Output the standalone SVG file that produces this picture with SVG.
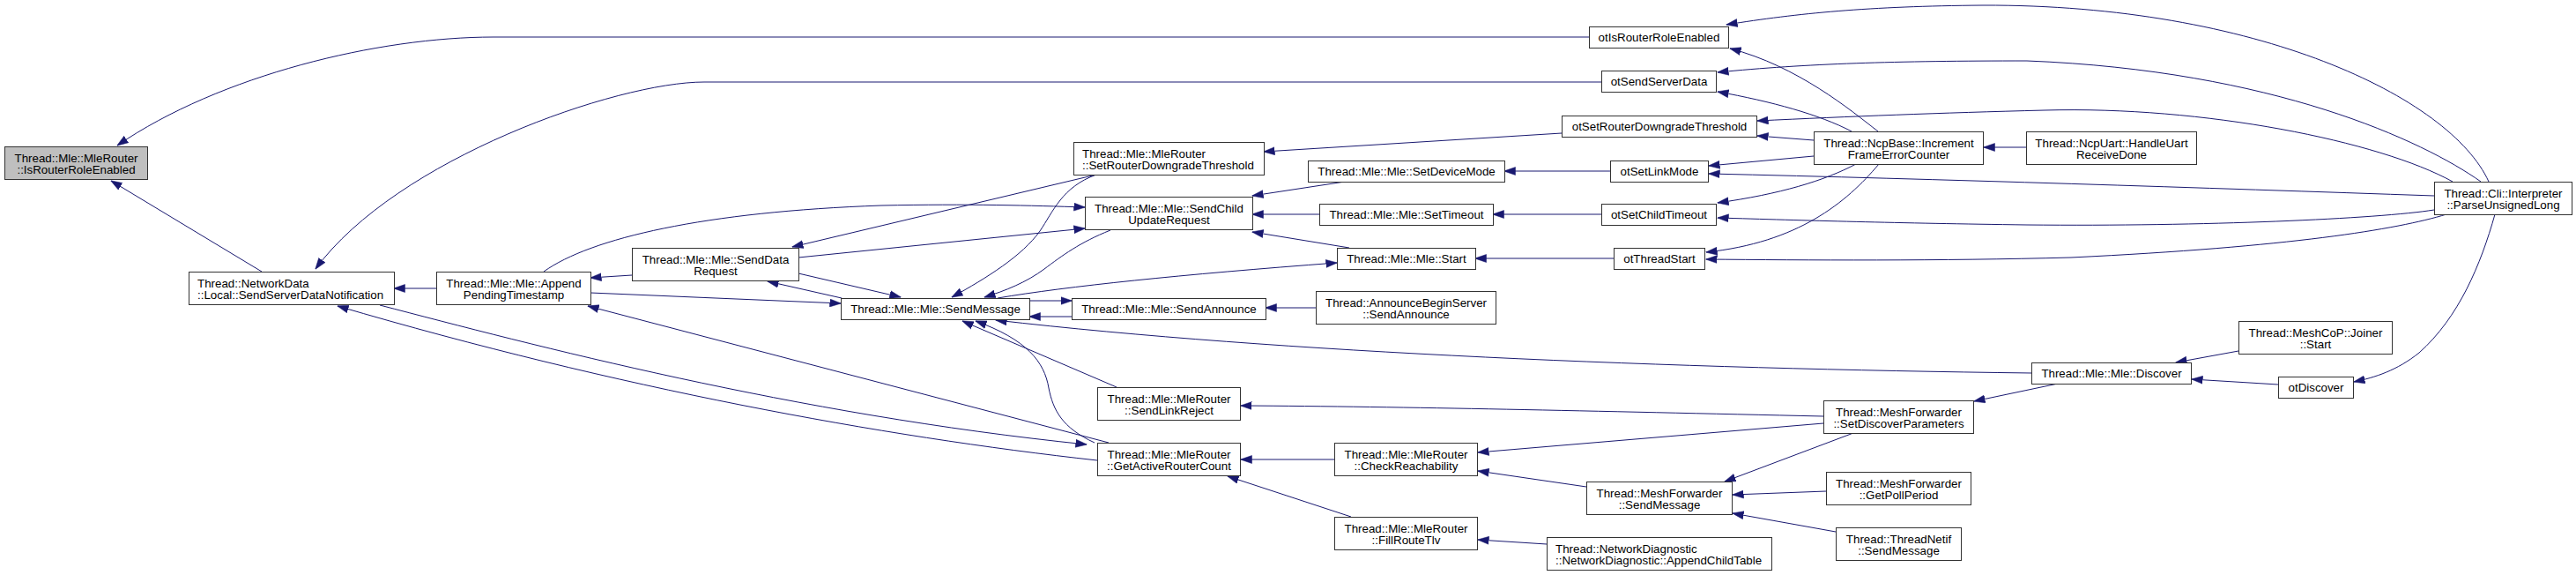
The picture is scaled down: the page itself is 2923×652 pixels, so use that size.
<svg xmlns="http://www.w3.org/2000/svg" width="2923" height="652" viewBox="0 0 2923 652">
<style>
.node rect{fill:#ffffff;stroke:#333333;stroke-width:1}
.root rect{fill:#bfbfbf}
.node text{font-family:"Liberation Sans",Arial,Helvetica,sans-serif;font-size:13.33px;fill:#000000;text-anchor:middle}
.node text.l{text-anchor:start}
.edges path{fill:none;stroke:#191970;stroke-width:1;marker-end:url(#arr)}
</style>
<defs>
<marker id="arr" markerUnits="userSpaceOnUse" markerWidth="13" markerHeight="10" viewBox="0 0 13 9" refX="12.5" refY="4.5" orient="auto">
<path d="M0,0 L13,4.5 L0,9 z" fill="#191970" stroke="#191970" stroke-width="0.5"/>
</marker>
</defs>
<rect x="0" y="0" width="2923" height="652" fill="#ffffff"/>
<g id="edges" class="edges">
<path d="M1803,42 L560,42 C430,42 250,85 133,165"/>
<path d="M1817,93 L799,93 C700,93 450,180 358,305"/>
<path d="M297,308 L126,205"/>
<path d="M495,327 L447,327"/>
<path d="M717,312 L670,315"/>
<path d="M617,308 C670,270 800,240 1000,233 C1100,231 1170,233 1231,235"/>
<path d="M906,292 L1231,259"/>
<path d="M1244,198 L899,280"/>
<path d="M1244,198 C1205,212 1195,240 1180,262 C1160,290 1120,315 1080,337"/>
<path d="M1260,261 C1225,275 1205,290 1185,305 C1165,320 1140,330 1117,337"/>
<path d="M1132,338 Q1250,318 1517,298"/>
<path d="M906,310 L1022,337"/>
<path d="M955,338 L871,319"/>
<path d="M670,332 L954,344"/>
<path d="M1258,502 L667,347"/>
<path d="M431,346 C600,390 900,470 1233,504"/>
<path d="M1245,522 C1000,495 700,440 383,347"/>
<path d="M1242,502 C1205,485 1195,465 1190,440 C1185,410 1165,385 1107,364"/>
<path d="M1267,439 L1092,364"/>
<path d="M2305,423 C1900,418 1450,400 1130,363"/>
<path d="M1168,341 L1216,341"/>
<path d="M1216,359 L1168,359"/>
<path d="M1493,349 L1436,349"/>
<path d="M1772,151 L1434,172"/>
<path d="M1827,194 L1707,194"/>
<path d="M1526,206 L1421,222"/>
<path d="M1817,243 L1694,243"/>
<path d="M1497,243 L1421,243"/>
<path d="M1831,293 L1674,293"/>
<path d="M1531,281 L1421,263"/>
<path d="M2824,206 C2780,110 2560,5 2250,6 C2120,7 2040,15 1959,28"/>
<path d="M2815,206 C2750,160 2580,80 2300,69 C2150,69 2050,72 1949,82"/>
<path d="M2783,206 C2700,160 2500,120 2320,125 C2200,128 2100,132 1994,137"/>
<path d="M2762,222 C2500,213 2200,203 1939,197"/>
<path d="M2762,238 C2700,248 2500,257 2300,255 C2150,253 2050,250 1949,247"/>
<path d="M2776,243 C2720,260 2600,280 2350,292 C2200,296 2050,295 1936,294"/>
<path d="M2831,243 C2815,300 2790,360 2745,400 C2720,420 2695,428 2671,433"/>
<path d="M2131,149 C2100,125 2040,75 1963,55"/>
<path d="M2101,149 C2065,130 2010,115 1949,104"/>
<path d="M2058,159 L1994,154"/>
<path d="M2058,177 L1939,188"/>
<path d="M2106,186 C2070,205 2020,220 1949,230"/>
<path d="M2132,186 C2095,230 2040,275 1936,286"/>
<path d="M2299,167 L2251,167"/>
<path d="M2069,472 C1800,466 1600,461 1408,460"/>
<path d="M2069,480 L1677,513"/>
<path d="M1800,552 L1677,534"/>
<path d="M2103,491 L1957,546"/>
<path d="M2072,557 L1966,561"/>
<path d="M2083,603 L1966,582"/>
<path d="M1514,521 L1408,521"/>
<path d="M1533,586 L1393,540"/>
<path d="M1755,617 L1677,612"/>
<path d="M2540,398 L2469,411"/>
<path d="M2585,436 L2487,430"/>
<path d="M2335,435 L2240,455"/>
</g>
<g id="n_root" class="node root"><rect x="5.5" y="166.5" width="162" height="37"/><text x="86.5" y="183.5">Thread::Mle::MleRouter</text><text x="86.5" y="197">::IsRouterRoleEnabled</text></g>
<g id="n_networkdata" class="node"><rect x="214.5" y="308.5" width="233" height="37"/><text class="l" x="224" y="325.5">Thread::NetworkData</text><text class="l" x="224" y="339">::Local::SendServerDataNotification</text></g>
<g id="n_append" class="node"><rect x="495.5" y="308.5" width="175" height="37"/><text x="583" y="325.5">Thread::Mle::Mle::Append</text><text x="583" y="339">PendingTimestamp</text></g>
<g id="n_senddatarequest" class="node"><rect x="717.5" y="281.5" width="189" height="37"/><text x="812" y="298.5">Thread::Mle::Mle::SendData</text><text x="812" y="312">Request</text></g>
<g id="n_sendmessage" class="node"><rect x="954.5" y="338.5" width="214" height="24"/><text x="1061.5" y="355">Thread::Mle::Mle::SendMessage</text></g>
<g id="n_setrouterdowngrade" class="node"><rect x="1218.5" y="161.5" width="216" height="37"/><text class="l" x="1228" y="178.5">Thread::Mle::MleRouter</text><text class="l" x="1228" y="192">::SetRouterDowngradeThreshold</text></g>
<g id="n_sendchildupdate" class="node"><rect x="1231.5" y="223.5" width="190" height="37"/><text x="1326.5" y="240.5">Thread::Mle::Mle::SendChild</text><text x="1326.5" y="254">UpdateRequest</text></g>
<g id="n_sendannounce" class="node"><rect x="1216.5" y="338.5" width="220" height="24"/><text x="1326.5" y="355">Thread::Mle::Mle::SendAnnounce</text></g>
<g id="n_sendlinkreject" class="node"><rect x="1245.5" y="439.5" width="162" height="37"/><text x="1326.5" y="456.5">Thread::Mle::MleRouter</text><text x="1326.5" y="470">::SendLinkReject</text></g>
<g id="n_getactiveroutercount" class="node"><rect x="1245.5" y="502.5" width="162" height="37"/><text x="1326.5" y="519.5">Thread::Mle::MleRouter</text><text x="1326.5" y="533">::GetActiveRouterCount</text></g>
<g id="n_otisrouterroleenabled" class="node"><rect x="1803.5" y="30.5" width="158" height="24"/><text x="1882.5" y="47">otIsRouterRoleEnabled</text></g>
<g id="n_otsendserverdata" class="node"><rect x="1817.5" y="80.5" width="130" height="24"/><text x="1882.5" y="97">otSendServerData</text></g>
<g id="n_otsetrouterdowngrade" class="node"><rect x="1772.5" y="131.5" width="221" height="24"/><text x="1883" y="148">otSetRouterDowngradeThreshold</text></g>
<g id="n_setdevicemode" class="node"><rect x="1484.5" y="182.5" width="223" height="24"/><text x="1596" y="199">Thread::Mle::Mle::SetDeviceMode</text></g>
<g id="n_otsetlinkmode" class="node"><rect x="1827.5" y="182.5" width="111" height="24"/><text x="1883" y="199">otSetLinkMode</text></g>
<g id="n_settimeout" class="node"><rect x="1497.5" y="231.5" width="197" height="24"/><text x="1596" y="248">Thread::Mle::Mle::SetTimeout</text></g>
<g id="n_otsetchildtimeout" class="node"><rect x="1817.5" y="231.5" width="130" height="24"/><text x="1882.5" y="248">otSetChildTimeout</text></g>
<g id="n_start" class="node"><rect x="1517.5" y="281.5" width="157" height="24"/><text x="1596" y="298">Thread::Mle::Mle::Start</text></g>
<g id="n_otthreadstart" class="node"><rect x="1831.5" y="281.5" width="103" height="24"/><text x="1883" y="298">otThreadStart</text></g>
<g id="n_announcebeginserver" class="node"><rect x="1493.5" y="330.5" width="204" height="37"/><text x="1595.5" y="347.5">Thread::AnnounceBeginServer</text><text x="1595.5" y="361">::SendAnnounce</text></g>
<g id="n_checkreachability" class="node"><rect x="1514.5" y="502.5" width="162" height="37"/><text x="1595.5" y="519.5">Thread::Mle::MleRouter</text><text x="1595.5" y="533">::CheckReachability</text></g>
<g id="n_fillroutetlv" class="node"><rect x="1514.5" y="586.5" width="162" height="37"/><text x="1595.5" y="603.5">Thread::Mle::MleRouter</text><text x="1595.5" y="617">::FillRouteTlv</text></g>
<g id="n_mfsendmessage" class="node"><rect x="1800.5" y="546.5" width="165" height="37"/><text x="1883" y="563.5">Thread::MeshForwarder</text><text x="1883" y="577">::SendMessage</text></g>
<g id="n_appendchildtable" class="node"><rect x="1755.5" y="609.5" width="255" height="37"/><text class="l" x="1765" y="626.5">Thread::NetworkDiagnostic</text><text class="l" x="1765" y="640">::NetworkDiagnostic::AppendChildTable</text></g>
<g id="n_ncpbase" class="node"><rect x="2058.5" y="149.5" width="192" height="37"/><text x="2154.5" y="166.5">Thread::NcpBase::Increment</text><text x="2154.5" y="180">FrameErrorCounter</text></g>
<g id="n_setdiscoverparameters" class="node"><rect x="2069.5" y="454.5" width="170" height="37"/><text x="2154.5" y="471.5">Thread::MeshForwarder</text><text x="2154.5" y="485">::SetDiscoverParameters</text></g>
<g id="n_getpollperiod" class="node"><rect x="2072.5" y="535.5" width="164" height="37"/><text x="2154.5" y="552.5">Thread::MeshForwarder</text><text x="2154.5" y="566">::GetPollPeriod</text></g>
<g id="n_threadnetif" class="node"><rect x="2083.5" y="598.5" width="142" height="37"/><text x="2154.5" y="615.5">Thread::ThreadNetif</text><text x="2154.5" y="629">::SendMessage</text></g>
<g id="n_handleuart" class="node"><rect x="2299.5" y="149.5" width="193" height="37"/><text x="2396" y="166.5">Thread::NcpUart::HandleUart</text><text x="2396" y="180">ReceiveDone</text></g>
<g id="n_discover" class="node"><rect x="2305.5" y="411.5" width="181" height="24"/><text x="2396" y="428">Thread::Mle::Mle::Discover</text></g>
<g id="n_parseunsignedlong" class="node"><rect x="2762.5" y="206.5" width="156" height="37"/><text x="2840.5" y="223.5">Thread::Cli::Interpreter</text><text x="2840.5" y="237">::ParseUnsignedLong</text></g>
<g id="n_joinerstart" class="node"><rect x="2540.5" y="364.5" width="174" height="37"/><text x="2627.5" y="381.5">Thread::MeshCoP::Joiner</text><text x="2627.5" y="395">::Start</text></g>
<g id="n_otdiscover" class="node"><rect x="2585.5" y="427.5" width="85" height="24"/><text x="2628" y="444">otDiscover</text></g>
</svg>
